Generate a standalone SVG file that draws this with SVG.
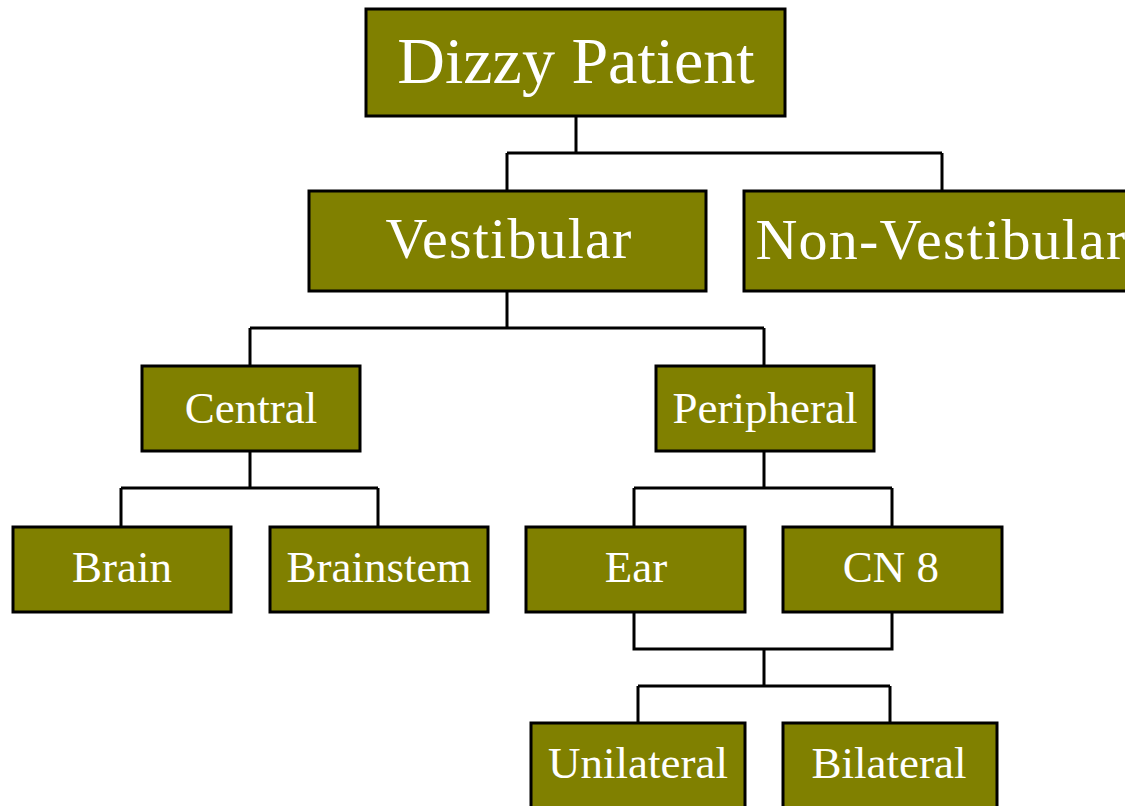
<svg xmlns="http://www.w3.org/2000/svg" width="1125" height="806" viewBox="0 0 1125 806">
<style>
.box{fill:#808000;stroke:#000;stroke-width:3}
.lbl{fill:#fff;font-family:"Liberation Serif","Times New Roman",serif;text-anchor:middle}
.l1{font-size:66px}
.l2{font-size:58px;letter-spacing:1.2px}
.l3{font-size:45px}
.con{fill:none;stroke:#000;stroke-width:3}
</style>
<rect width="1125" height="806" fill="#fff"/>
<g id="connectors">
<path class="con" d="M576 116V153M507 153H942M507 153V191M942 153V191"/>
<path class="con" d="M507 291V328M250 328H764M250 328V366M764 328V366"/>
<path class="con" d="M250 451V488M121 488H378M121 488V527M378 488V527"/>
<path class="con" d="M764 451V488M634 488H892M634 488V527M892 488V527"/>
<path class="con" d="M634 612V649H892V612M764 649V686M638 686H890M638 686V723M890 686V723"/>
</g>
<g id="dizzy"><rect class="box" x="366" y="9" width="419" height="107"/><text class="lbl l1" x="576" y="83">Dizzy Patient</text></g>
<g id="vestibular"><rect class="box" x="309" y="191" width="397" height="100"/><text class="lbl l2" x="509" y="258">Vestibular</text></g>
<g id="nonvestibular"><rect class="box" x="744" y="191" width="400" height="100"/><text class="lbl l2" x="941" y="259">Non-Vestibular</text></g>
<g id="central"><rect class="box" x="142" y="366" width="218" height="85"/><text class="lbl l3" x="251" y="423">Central</text></g>
<g id="peripheral"><rect class="box" x="656" y="366" width="218" height="85"/><text class="lbl l3" x="765" y="423">Peripheral</text></g>
<g id="brain"><rect class="box" x="13" y="527" width="218" height="85"/><text class="lbl l3" x="122" y="582">Brain</text></g>
<g id="brainstem"><rect class="box" x="270" y="527" width="218" height="85"/><text class="lbl l3" x="379" y="582">Brainstem</text></g>
<g id="ear"><rect class="box" x="526" y="527" width="219" height="85"/><text class="lbl l3" x="636" y="582">Ear</text></g>
<g id="cn8"><rect class="box" x="783" y="527" width="219" height="85"/><text class="lbl l3" x="891" y="582">CN 8</text></g>
<g id="unilateral"><rect class="box" x="531" y="723" width="214" height="100"/><text class="lbl l3" x="638" y="778">Unilateral</text></g>
<g id="bilateral"><rect class="box" x="783" y="723" width="214" height="100"/><text class="lbl l3" x="889" y="778">Bilateral</text></g>
</svg>
